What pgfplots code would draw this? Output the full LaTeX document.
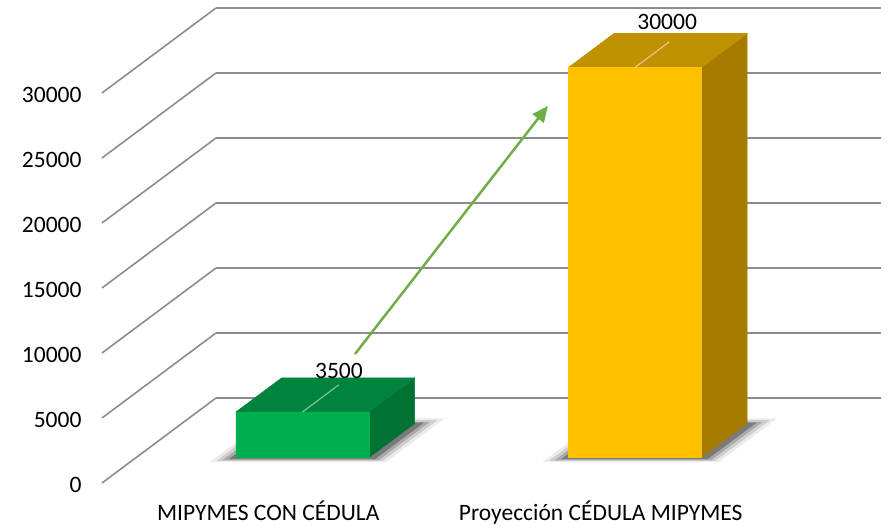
\documentclass[border=0pt]{standalone}
\usepackage{pgfplots}
\pgfplotsset{compat=1.18}
\usetikzlibrary{arrows.meta}
\usepackage{fontspec}
\setmainfont{Carlito}
\definecolor{gfront}{RGB}{0,176,80}
\definecolor{gtop}{RGB}{0,132,61}
\definecolor{gside}{RGB}{0,115,52}
\definecolor{yfront}{RGB}{255,192,0}
\definecolor{ytop}{RGB}{192,145,0}
\definecolor{yside}{RGB}{166,124,0}
\definecolor{arrowgreen}{RGB}{112,173,71}
\definecolor{gridgray}{RGB}{140,140,140}
\begin{document}
\begin{tikzpicture}
\begin{axis}[
  x={(332.5bp,0bp)}, y={(114bp,85bp)}, z={(0bp,0.013bp)},
  xmin=-0.5, xmax=1.5, ymin=0, ymax=1, zmin=0, zmax=30000,
  clip=false,
  axis line style={draw=none},
  major tick length=0pt,
  xtick={0,1}, xticklabels={MIPYMES CON CÉDULA, Proyección CÉDULA MIPYMES},
  ytick=\empty,
  ztick={0,5000,10000,15000,20000,25000,30000},
  zmajorgrids=true, xmajorgrids=false, ymajorgrids=false,
  major grid style={gridgray, line width=1.6bp},
  tick label style={font=\fontsize{23.5bp}{28bp}\selectfont, text=black},
  scaled z ticks=false,
  /pgf/number format/assume math mode=true,
  /pgf/number format/1000 sep={},
  xticklabel style={anchor=north, yshift=-14bp},
  zticklabel style={anchor=east, xshift=-17bp, yshift=-2bp},
]
% shadows (layered blur)
\addplot3[fill=black, draw=none, opacity=0.08] coordinates {(-0.26,0.25,0) (0.27,0.25,0) (0.27,0.76,0) (-0.26,0.76,0) (-0.26,0.25,0)};
\addplot3[fill=black, draw=none, opacity=0.12] coordinates {(-0.245,0.26,0) (0.255,0.26,0) (0.255,0.74,0) (-0.245,0.74,0) (-0.245,0.26,0)};
\addplot3[fill=black, draw=none, opacity=0.18] coordinates {(-0.23,0.27,0) (0.24,0.27,0) (0.24,0.72,0) (-0.23,0.72,0) (-0.23,0.27,0)};
\addplot3[fill=black, draw=none, opacity=0.28] coordinates {(-0.215,0.28,0) (0.225,0.28,0) (0.225,0.71,0) (-0.215,0.71,0) (-0.215,0.28,0)};
\addplot3[fill=black, draw=none, opacity=0.08] coordinates {(0.74,0.25,0) (1.27,0.25,0) (1.27,0.76,0) (0.74,0.76,0) (0.74,0.25,0)};
\addplot3[fill=black, draw=none, opacity=0.12] coordinates {(0.755,0.26,0) (1.255,0.26,0) (1.255,0.74,0) (0.755,0.74,0) (0.755,0.26,0)};
\addplot3[fill=black, draw=none, opacity=0.18] coordinates {(0.77,0.27,0) (1.24,0.27,0) (1.24,0.72,0) (0.77,0.72,0) (0.77,0.27,0)};
\addplot3[fill=black, draw=none, opacity=0.28] coordinates {(0.785,0.28,0) (1.225,0.28,0) (1.225,0.71,0) (0.785,0.71,0) (0.785,0.28,0)};
% bar 1
\addplot3[fill=gside, draw=gside, line width=0.6bp] coordinates {(0.2,0.3,0) (0.2,0.7,0) (0.2,0.7,3500) (0.2,0.3,3500) (0.2,0.3,0)};
\addplot3[fill=gtop, draw=gtop, line width=0.6bp] coordinates {(-0.2,0.3,3500) (0.2,0.3,3500) (0.2,0.7,3500) (-0.2,0.7,3500) (-0.2,0.3,3500)};
\addplot3[fill=gfront, draw=gfront, line width=0.6bp] coordinates {(-0.2,0.3,0) (0.2,0.3,0) (0.2,0.3,3500) (-0.2,0.3,3500) (-0.2,0.3,0)};
% bar 2
\addplot3[fill=yside, draw=yside, line width=0.6bp] coordinates {(1.2,0.3,0) (1.2,0.7,0) (1.2,0.7,30000) (1.2,0.3,30000) (1.2,0.3,0)};
\addplot3[fill=ytop, draw=ytop, line width=0.6bp] coordinates {(0.8,0.3,30000) (1.2,0.3,30000) (1.2,0.7,30000) (0.8,0.7,30000) (0.8,0.3,30000)};
\addplot3[fill=yfront, draw=yfront, line width=0.6bp] coordinates {(0.8,0.3,0) (1.2,0.3,0) (1.2,0.3,30000) (0.8,0.3,30000) (0.8,0.3,0)};
% leaders and labels
\draw[white, opacity=0.5, line width=1.2bp] (axis cs:0,0.3,3500) -- (axis cs:0,0.62,3500);
\draw[white, opacity=0.5, line width=1.2bp] (axis cs:1,0.3,30000) -- (axis cs:1,0.6,30000);
\node[anchor=base, font=\fontsize{23.5bp}{28bp}\selectfont, yshift=6bp] at (axis cs:0,0.62,3500) {3500};
\node[anchor=base, font=\fontsize{23.5bp}{28bp}\selectfont, yshift=12bp, xshift=-2bp] at (axis cs:1,0.6,30000) {30000};
% arrow
\draw[arrowgreen, line width=2.5bp, -{Triangle[length=16bp,width=14bp]}] (axis cs:0.261,0,9923) -- (axis cs:0.841,0,29000);
\coordinate (O) at (axis cs:-0.5,0,0);
\end{axis}
\path (O) ++(-102bp,-44bp) rectangle ++(889bp,527bp);
\end{tikzpicture}
\end{document}
